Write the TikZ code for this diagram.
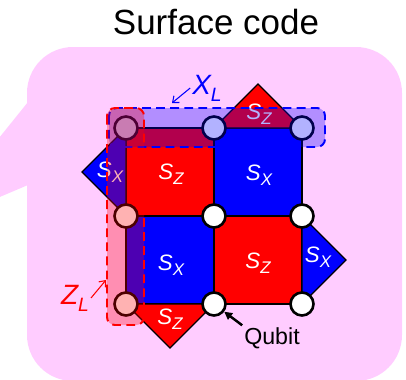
\documentclass[tikz,border=0pt]{standalone}
\usepackage{fontspec}
\setmainfont{Liberation Sans}
\usetikzlibrary{arrows.meta, positioning}
\usepackage{xcolor}
\definecolor{bgpink}{RGB}{255,204,255}
\newcommand{\stab}[2]{\textit{#1\raisebox{-2.8pt}{\fontsize{9.6}{10}\selectfont #2}}}
\newcommand{\logop}[2]{\textit{#1\raisebox{-4pt}{\fontsize{11}{12}\selectfont #2}}}

\begin{document}
\begin{tikzpicture}[
    x=0.02cm, y=-0.02cm,
    zsq/.style={draw, fill=red, line width=0.75pt},
    xsq/.style={draw, fill=blue, line width=0.75pt},
    qubit/.style={circle, draw, fill=white, line width=1.5pt, minimum size=0.46cm, inner sep=0pt},
    lbl/.style={text=white, font=\fontsize{12.7}{14}\selectfont, inner sep=0pt},
    opbox/.style={fill opacity=0.3, line width=1.1pt, dash pattern=on 5pt off 3pt, rounded corners=4.5pt},
    oplbl/.style={font=\fontsize{15.9}{18}\selectfont, inner sep=1pt},
    oparrow/.style={-{Straight Barb[length=3pt, width=5pt]}, line width=0.6pt},
    arrow/.style={-{Triangle[length=4.5pt, width=4.5pt]}, line width=1.4pt},
]
\useasboundingbox (0,0) rectangle (406,379);

% speech bubble
\fill[bgpink, rounded corners=0.92cm] (27,47) rectangle (402,381);
\fill[bgpink] (28,102) -- (-5,143) -- (-5,199) -- (28,185) -- cycle;
\node[font=\fontsize{19.9}{22}\selectfont] (title) at (216,22) {Surface code};

% lattice corners
\coordinate (c11) at (126,128);
\coordinate (c12) at (214,128);
\coordinate (c13) at (302,128);
\coordinate (c21) at (126,216);
\coordinate (c22) at (214,216);
\coordinate (c23) at (302,216);
\coordinate (c31) at (126,304);
\coordinate (c32) at (214,304);
\coordinate (c33) at (302,304);

% stabilizers
\draw[zsq] (c11) rectangle (c22);
\draw[xsq] (c12) rectangle (c23);
\draw[xsq] (c21) rectangle (c32);
\draw[zsq] (c22) rectangle (c33);
\draw[zsq] (c12) -- ++(44,-44) -- (c13) -- cycle;
\draw[xsq] (c11) -- ++(-44,44) -- (c21) -- cycle;
\draw[xsq] (c23) -- ++(44,44) -- (c33) -- cycle;
\draw[zsq] (c31) -- ++(44,44) -- (c32) -- cycle;

% qubits
\node[qubit] (q11) at (c11) {};
\node[qubit] (q12) at (c12) {};
\node[qubit] (q13) at (c13) {};
\node[qubit] (q21) at (c21) {};
\node[qubit] (q22) at (c22) {};
\node[qubit] (q23) at (c23) {};
\node[qubit] (q31) at (c31) {};
\node[qubit] (q32) at (c32) {};
\node[qubit] (q33) at (c33) {};

\node[lbl] (sz1) at (171,174) {\stab{S}{Z}};
\node[lbl] (sx1) at (259,175) {\stab{S}{X}};
\node[lbl] (sx2) at (171,265) {\stab{S}{X}};
\node[lbl] (sz2) at (258,263) {\stab{S}{Z}};
\node[lbl] (sz3) at (259,114) {\stab{S}{Z}};
\node[lbl] (sx3) at (110,172) {\stab{S}{X}};
\node[lbl] (sx4) at (318,257) {\stab{S}{X}};
\node[lbl] (sz4) at (170,319) {\stab{S}{Z}};

% logical operators
\draw[opbox, draw=blue, fill=blue] (109,108) rectangle (325,147);
\draw[opbox, draw=red, fill=red] (107,108) rectangle (144,325);

\node[oplbl, text=blue] (xlab) at (207,88) {\logop{X}{L}};
\coordinate (xtip) at (172,103);
\draw[oparrow, blue] (xlab.west) -- (xtip);
\node[oplbl, text=red] (zlab) at (75,298) {\logop{Z}{L}};
\coordinate (ztip) at (106,280);
\draw[oparrow, red] (zlab.east) -- (ztip);

\node[font=\fontsize{13.2}{15}\selectfont, inner sep=1pt] (qlab) at (272,338) {Qubit};
\draw[arrow] (qlab.north west) -- (q32);

\end{tikzpicture}
\end{document}
